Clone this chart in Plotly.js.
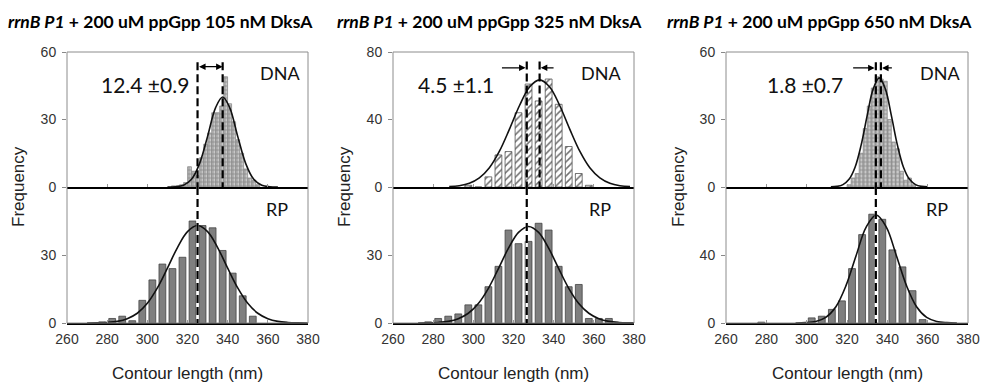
<!DOCTYPE html>
<html>
<head>
<meta charset="utf-8">
<script src="https://cdn.plot.ly/plotly-3.0.1.min.js"></script>
<style>html,body{margin:0;padding:0;background:#fff}#chart{width:982px;height:386px}</style>
</head>
<body>
<div id="chart"></div>
<script>
// ---------------- data ----------------
const panelTitles = ["105", "325", "650"];
const deltaLabels = ["12.4 \u00b10.9", "4.5 \u00b11.1", "1.8 \u00b10.7"];
const xTicks = [260, 280, 300, 320, 340, 360, 380];

// Panel 1 (105 nM DksA)
const p1DnaX = [313,315,317,319,321,323,325,327,329,331,333,335,337,339,341,343,345,347,349,351,353,355];
const p1DnaY = [0.5,0.5,1,2,9,7,5,13,19,24,33,33,36,49,37,29,21,15,8,4,3,1];
const p1DnaFitX = [310,314,318,322,326,330,334,337.5,341,345,349,353,357,361,365];
const p1DnaFitY = [0.02,0.14,0.8,3.4,10.4,22.5,35.3,40,35.3,22.5,10.4,3.4,0.8,0.14,0.02];
const p1RpX = [277.5,282.5,287.5,292.5,297.5,302.5,307.5,312.5,317.5,322.5,327.5,332.5,337.5,342.5,347.5,352.5];
const p1RpY = [0.5,2,3,1,10,19,26,24,29,45,43,42,32,22,12,3];
const p1RpFitX = [270,275,280,285,290,295,300,305,310,315,320,325,330,335,340,345,350,355,360,365,370,375,380];
const p1RpFitY = [0.02,0.07,0.25,0.73,1.9,4.3,8.7,15.5,24.2,33.3,40.3,43,40.3,33.3,24.2,15.5,8.7,4.3,1.9,0.73,0.25,0.07,0.02];

// Panel 2 (325 nM DksA)
const p2DnaX = [297.5,302.5,307.5,312.5,317.5,322.5,327.5,332.5,337.5,342.5,347.5,352.5,357.5];
const p2DnaY = [1,0,6,19,21,44,61,51,64,49,24,8,1];
const p2DnaFitX = [288,293,298,303,308,313,318,323,328,333,338,343,348,353,358,363,368,373,378];
const p2DnaFitY = [0.25,0.79,2.2,5.4,11.4,21.2,34.3,48.3,59.3,63.5,59.3,48.3,34.3,21.2,11.4,5.4,2.2,0.79,0.25];
const p2RpX = [277.5,282.5,287.5,292.5,297.5,302.5,307.5,312.5,317.5,322.5,327.5,332.5,337.5,342.5,347.5,352.5,357.5,362.5,367.5];
const p2RpY = [0.5,2,3,4,8,8,16,25,41,35,36,44,41,25,16,17,2,2,2];
const p2RpFitX = [272.5,277.5,282.5,287.5,292.5,297.5,302.5,307.5,312.5,317.5,322.5,327.5,332.5,337.5,342.5,347.5,352.5,357.5,362.5,367.5,372.5,377.5,382.5];
const p2RpFitY = [0.02,0.07,0.24,0.72,1.9,4.3,8.6,15.3,24.0,33.0,40.0,42.6,40.0,33.0,24.0,15.3,8.6,4.3,1.9,0.72,0.24,0.07,0.02];

// Panel 3 (650 nM DksA)
const p3DnaX = [321,323,325,327,329,331,333,335,337,339,341,343,345,347,349,351,353];
const p3DnaY = [1,4,6,15,26,36,44,49,48,47,30,20,17,7,3,4,1];
const p3DnaFitX = [312,315,318,321,324,327,330,333,336,339,342,345,348,351,354,357,360];
const p3DnaFitY = [0.05,0.26,1.05,3.4,8.8,18.6,31.7,43.6,48.5,43.6,31.7,18.6,8.8,3.4,1.05,0.26,0.05];
const p3RpX = [277.5,302.5,307.5,312.5,317.5,322.5,327.5,332.5,337.5,342.5,347.5,352.5,357.5];
const p3RpY = [0.5,3,4,8,13,32,52,64,61,43,33,19,2];
const p3RpFitX = [294.5,299.5,304.5,309.5,314.5,319.5,324.5,329.5,334.5,339.5,344.5,349.5,354.5,359.5,364.5,369.5,374.5];
const p3RpFitY = [0.03,0.2,0.9,3.3,9.6,22.0,39.6,56.4,63.5,56.4,39.6,22.0,9.6,3.3,0.9,0.2,0.03];

// mean positions (dashed lines) and arrow endpoints
const rpMeans = [325, 326.6, 334.3];
const dnaMeans = [337.5, 333, 336.8];
const topRanges = [60, 80, 60];
const topTicks = [[0,30,60],[0,40,80],[0,30,60]];
const botRanges = [60, 60, 80];
const botTicks = [[0,30],[0,30],[0,40]];
const arrowY = [53.5, 70.6, 52.9];
const dashTop = [55.5, 74.4, 55.5];

// ---------------- build ----------------
const W = 982, H = 386;
const xDom = [[67/W, 308/W], [393/W, 634/W], [726/W, 968/W]];
const yTop = [(H-187)/H, (H-52)/H];
const yBot = [(H-323)/H, (H-187)/H];

const dna = [[p1DnaX,p1DnaY,p1DnaFitX,p1DnaFitY],[p2DnaX,p2DnaY,p2DnaFitX,p2DnaFitY],[p3DnaX,p3DnaY,p3DnaFitX,p3DnaFitY]];
const rp = [[p1RpX,p1RpY,p1RpFitX,p1RpFitY],[p2RpX,p2RpY,p2RpFitX,p2RpFitY],[p3RpX,p3RpY,p3RpFitX,p3RpFitY]];

const traces = [];
const layout = {
  width: W, height: H,
  margin: {l:0, r:0, t:0, b:0},
  paper_bgcolor: '#fff', plot_bgcolor: 'rgba(0,0,0,0)',
  showlegend: false,
  bargap: 0,
  font: {family: 'Liberation Sans, Arial, sans-serif', color: '#222', size: 13},
  shapes: [], annotations: []
};

const tickFont = {family: 'Liberation Sans, Arial, sans-serif', size: 14, color: '#333'};
const labelFont = 'Lato, "Open Sans", sans-serif';

for (let p = 0; p < 3; p++) {
  const t = 2*p + 1, b = 2*p + 2;
  const xt = 'x' + (t === 1 ? '' : t), yt = 'y' + (t === 1 ? '' : t);
  const xb = 'x' + b, yb = 'y' + b;
  const xtKey = 'xaxis' + (t === 1 ? '' : t), ytKey = 'yaxis' + (t === 1 ? '' : t);
  const xbKey = 'xaxis' + b, ybKey = 'yaxis' + b;

  const hatched = (p === 1);
  const dnaW = hatched ? 3.4 : 1.9;
  const pattern = hatched
    ? {shape: '/', fgcolor: '#6e6e6e', bgcolor: '#ffffff', size: 5, solidity: 0.3}
    : {shape: '+', fgcolor: '#7d7d7d', bgcolor: '#c8c8c8', size: 4, solidity: 0.3};

  traces.push({type: 'bar', x: dna[p][0], y: dna[p][1], xaxis: xt, yaxis: yt, width: dnaW,
    marker: {color: hatched ? '#ffffff' : '#c4c4c4', line: {color: hatched ? '#555' : '#8a8a8a', width: 0.8}, pattern: pattern},
    hoverinfo: 'skip'});
  traces.push({type: 'scatter', mode: 'lines', x: dna[p][2], y: dna[p][3], xaxis: xt, yaxis: yt,
    line: {color: '#111', width: 1.6, shape: 'spline'}, hoverinfo: 'skip'});
  traces.push({type: 'bar', x: rp[p][0], y: rp[p][1], xaxis: xb, yaxis: yb, width: 3.4,
    marker: {color: '#7f7f7f', line: {color: '#444', width: 0.8}}, hoverinfo: 'skip'});
  traces.push({type: 'scatter', mode: 'lines', x: rp[p][2], y: rp[p][3], xaxis: xb, yaxis: yb,
    line: {color: '#111', width: 1.6, shape: 'spline'}, hoverinfo: 'skip'});

  const xCommon = {range: [260, 380], tickvals: xTicks, showgrid: false, zeroline: false,
    showline: true, linecolor: '#000', linewidth: 1.6, ticks: 'inside', ticklen: 3, tickcolor: '#999', fixedrange: true};
  layout[xtKey] = Object.assign({}, xCommon, {domain: xDom[p], anchor: yt, showticklabels: false});
  layout[xbKey] = Object.assign({}, xCommon, {domain: xDom[p], anchor: yb, showticklabels: true,
    tickfont: tickFont, ticklabelstandoff: 3});
  const yCommon = {showgrid: false, zeroline: false, showline: false, ticks: 'outside', ticklen: 4,
    tickcolor: '#888', tickfont: tickFont, ticklabelstandoff: 3, fixedrange: true};
  layout[ytKey] = Object.assign({}, yCommon, {domain: yTop, anchor: xt, range: [0, topRanges[p]], tickvals: topTicks[p]});
  layout[ybKey] = Object.assign({}, yCommon, {domain: yBot, anchor: xb, range: [0, botRanges[p]], tickvals: botTicks[p]});

  // frame
  layout.shapes.push({type: 'rect', xref: 'paper', yref: 'paper', x0: xDom[p][0], x1: xDom[p][1],
    y0: yBot[0], y1: yTop[1], line: {color: '#8c8c8c', width: 1}, layer: 'above'});

  // dashed mean lines
  const dash = '8px,4px';
  layout.shapes.push({type: 'line', xref: xt, yref: yt, x0: rpMeans[p], x1: rpMeans[p], y0: dashTop[p], y1: 0,
    line: {color: '#000', width: 2.2, dash: dash}});
  layout.shapes.push({type: 'line', xref: xt, yref: yt, x0: dnaMeans[p], x1: dnaMeans[p], y0: dashTop[p], y1: 0,
    line: {color: '#000', width: 2.2, dash: dash}});
  layout.shapes.push({type: 'line', xref: xb, yref: yb, x0: rpMeans[p], x1: rpMeans[p], y0: botRanges[p], y1: 0,
    line: {color: '#fff', width: 2.2}});
  layout.shapes.push({type: 'line', xref: xb, yref: yb, x0: rpMeans[p], x1: rpMeans[p], y0: botRanges[p], y1: 0,
    line: {color: '#000', width: 2.2, dash: dash}});

  // arrows
  const arr = {xref: xt, yref: yt, axref: xt, ayref: yt, text: '', showarrow: true,
    arrowhead: 2, arrowsize: 1, arrowwidth: 1.3, arrowcolor: '#000', standoff: 0, startstandoff: 0};
  if (p === 0) {
    layout.annotations.push(Object.assign({}, arr, {x: dnaMeans[p], y: arrowY[p], ax: rpMeans[p], ay: arrowY[p], arrowside: 'end+start'}));
  } else {
    const lo = Math.min(rpMeans[p], dnaMeans[p]), hi = Math.max(rpMeans[p], dnaMeans[p]);
    const leftTail = p === 1 ? 313.5 : 322.3;
    const rightTail = p === 1 ? 340.7 : 343.0;
    layout.annotations.push(Object.assign({}, arr, {x: lo - 0.6, y: arrowY[p], ax: leftTail, ay: arrowY[p]}));
    layout.annotations.push(Object.assign({}, arr, {x: hi + 0.6, y: arrowY[p], ax: rightTail, ay: arrowY[p]}));
  }
}

// text annotations (paper coordinates)
const px = v => v / W, py = v => (H - v) / H;
const titleX = [160, 489.5, 819.5];
const deltaX = [144.5, 456, 804.5];
const dnaLabX = [279.5, 600.5, 939.5];
const rpLabX = [277, 600, 937];
const freqX = [19, 345, 679];
const xTitleX = [187.5, 513.5, 847];
for (let p = 0; p < 3; p++) {
  const base = {xref: 'paper', yref: 'paper', showarrow: false, xanchor: 'center', yanchor: 'middle'};
  layout.annotations.push(Object.assign({}, base, {x: px(titleX[p]), y: py(21.5),
    text: '<b><i>rrnB P1</i> + 200 uM ppGpp ' + panelTitles[p] + ' nM DksA</b>',
    font: {family: labelFont, size: 17.5, color: '#000'}}));
  layout.annotations.push(Object.assign({}, base, {x: px(deltaX[p]), y: py(84),
    text: deltaLabels[p], font: {family: labelFont, size: 21, color: '#111'}}));
  layout.annotations.push(Object.assign({}, base, {x: px(dnaLabX[p]), y: py(73),
    text: 'DNA', font: {family: labelFont, size: 18, color: '#111'}}));
  layout.annotations.push(Object.assign({}, base, {x: px(rpLabX[p]), y: py(209),
    text: 'RP', font: {family: labelFont, size: 18, color: '#111'}}));
  layout.annotations.push(Object.assign({}, base, {x: px(freqX[p]), y: py(187), textangle: -90,
    text: 'Frequency', font: {family: 'Liberation Sans, Arial, sans-serif', size: 17, color: '#222'}}));
  layout.annotations.push(Object.assign({}, base, {x: px(xTitleX[p]), y: py(373),
    text: 'Contour length (nm)', font: {family: 'Liberation Sans, Arial, sans-serif', size: 17, color: '#222'}}));
}

Plotly.newPlot('chart', traces, layout, {staticPlot: true, displayModeBar: false});
</script>
</body>
</html>
